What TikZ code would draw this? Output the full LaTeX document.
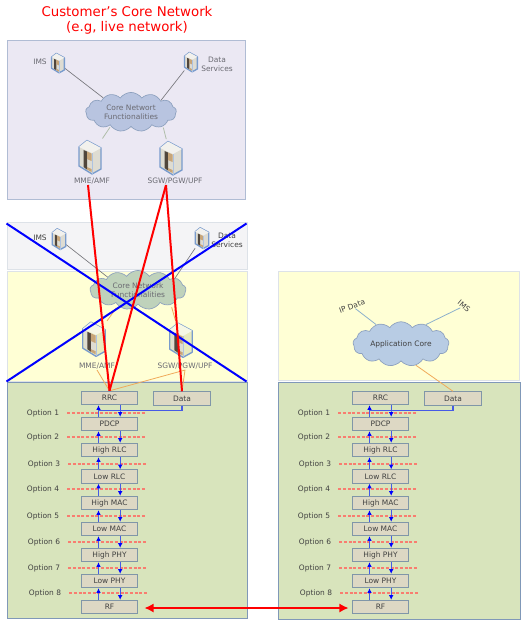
\documentclass[tikz,border=0pt]{standalone}
\usepackage{fontspec}
\setmainfont{DejaVu Sans}
\usetikzlibrary{arrows.meta,fit,backgrounds,shapes.symbols}
\definecolor{Lavender}{RGB}{235,232,243}
\definecolor{PaleGrey}{RGB}{244,244,246}
\definecolor{PaleYellow}{RGB}{255,255,213}
\definecolor{PaleGreen}{RGB}{216,228,188}
\definecolor{EdgeBlue}{RGB}{176,188,212}
\definecolor{EdgePale}{RGB}{221,226,232}
\definecolor{EdgeSteel}{RGB}{128,152,184}
\definecolor{BoxTan}{RGB}{221,216,196}
\definecolor{BoxEdge}{RGB}{128,150,168}
\definecolor{CloudLilac}{RGB}{184,196,224}
\definecolor{CloudSage}{RGB}{191,210,187}
\definecolor{CloudSky}{RGB}{184,204,228}
\definecolor{CloudEdge}{RGB}{140,160,190}
\definecolor{Ink}{RGB}{64,64,64}
\definecolor{InkSoft}{RGB}{106,106,114}
\definecolor{Wire}{RGB}{120,120,125}
\definecolor{WirePale}{RGB}{176,190,170}
\definecolor{WireSky}{RGB}{140,176,204}
\definecolor{Feed}{RGB}{240,170,90}
\definecolor{Bus}{RGB}{70,90,230}
\definecolor{CutRed}{RGB}{248,125,112}
\definecolor{IconEdge}{RGB}{120,155,205}
\definecolor{IconTan}{RGB}{200,165,120}
\definecolor{IconDark}{RGB}{80,70,60}
\definecolor{IconGrey}{RGB}{222,220,210}
\definecolor{IconLime}{RGB}{232,234,190}
\tikzset{
  >=Latex,
  panel/.style={draw=#1,line width=.75pt,inner sep=0pt},
  layerbox/.style={draw=BoxEdge,line width=.8pt,fill=BoxTan,text=Ink,font=\fontsize{5.6}{7}\selectfont,minimum width=42.5pt,minimum height=10pt,inner sep=0pt},
  optlabel/.style={text=Ink,font=\fontsize{5.6}{7}\selectfont,inner sep=1pt},
  tag/.style={text=InkSoft,font=\fontsize{5.6}{7}\selectfont,align=center,inner sep=.5pt},
  tagdark/.style={tag,text=Ink},
  corecloud/.style={cloud,cloud puffs=13,cloud puff arc=110,aspect=2.5,draw=CloudEdge,line width=.5pt,fill=#1,text=InkSoft,font=\fontsize{5.6}{6.8}\selectfont,align=center,inner sep=0pt,minimum width=68pt,minimum height=28pt},
  srv/.style={inner sep=0pt,minimum width=#1*16.5pt,minimum height=#1*24pt},
  wire/.style={draw=Wire,line width=.5pt},
  wirepale/.style={draw=WirePale,line width=.6pt,shorten >=2pt,shorten <=1pt},
  wiresky/.style={draw=WireSky,line width=.6pt},
  feed/.style={draw=Feed,line width=.6pt},
  cutline/.style={draw=CutRed,line width=.9pt,dash pattern=on 2.4pt off 1.1pt},
  bus/.style={draw=Bus,line width=.9pt},
  busup/.style={bus,-{Latex[length=3.5pt,width=3.5pt,color=blue]}},
  cross/.style={draw=blue,line width=1.5pt},
  redline/.style={draw=red,line width=1.5pt},
  redlink/.style={draw=red,line width=1.9pt,{Latex[length=7pt,width=7pt]}-{Latex[length=7pt,width=7pt]}},
  pics/server/.style={code={
    \draw[draw=IconEdge,line width=1pt,fill=#1,line join=round] (-11,-10)--(-3,-16.5)--(11,-9)--(11,12)--(2,17)--(-11,9)--cycle;
    \fill[white!60!#1] (-11,-10)--(-3,-16.5)--(11,-9)--(2,-4)--cycle;
    \fill[IconGrey] (-9.5,-8.5)--(1.5,-3.5)--(1.5,15)--(-9.5,8)--cycle;
    \fill[IconDark] (-6.5,-7)--(-3,-5.5)--(-3,12.5)--(-6.5,10)--cycle;
    \fill[IconTan] (-3,-5.5)--(1.5,-3.5)--(1.5,4)--(-3,2)--cycle;
    \fill[IconTan] (-3,10)--(1.5,12)--(1.5,15)--(-3,12.5)--cycle;
    \draw[IconEdge!60,line width=.4pt] (2,-4)--(2,17);
  }}
}
\begin{document}
\begin{tikzpicture}[x=.75pt,y=-.75pt]
  \useasboundingbox (0,0) rectangle (525,625);
  \node[font=\fontsize{10}{11.5}\selectfont,text=red,align=center] (title) at (127,20) {Customer’s Core Network\\(e.g, live network)};
  % clouds and servers
  \node[corecloud=CloudLilac] (core1) at (131,112) {Core Networt\\Functionalities};
  \node[corecloud=CloudSage,minimum width=72pt] (core2) at (138,290) {Core Network\\Functionalities};
  \node[corecloud=CloudSky,minimum width=72pt,minimum height=30pt,text=Ink] (core3) at (401,344) {Application Core};
  \foreach \n/\x/\y/\s/\c in {ims1/58/63/.58/IconGrey,dat1/191/62/.58/IconGrey,mme1/90/157/1/IconGrey,sgw1/171/158/1/IconGrey,ims2/59/239/.62/IconGrey,dat2/202/238/.62/IconGrey,mme2/94/339/1.02/IconLime,sgw2/181/340/1.02/IconLime}{
    \node[srv=\s] (\n) at (\x,\y) {};
    \pic[scale=\s] at (\n) {server={\c}};
  }
  \node[tag] (imsL1) at (40,62) {IMS};
  \node[tag] (datL1) at (217,64.5) {Data\\Services};
  \node[tag] (mmeL1) at (92,181) {MME/AMF};
  \node[tag] (sgwL1) at (175,181) {SGW/PGW/UPF};
  \node[tagdark] (imsL2) at (40,238) {IMS};
  \node[tagdark] (datL2) at (227,240.5) {Data\\Services};
  \node[tag] (mmeL2) at (97,366) {MME/AMF};
  \node[tag] (sgwL2) at (185,366) {SGW/PGW/UPF};
  \node[tagdark,rotate=20] (ipL3) at (352,306) {IP Data};
  \node[tagdark,rotate=-40] (imsL3) at (464,306) {IMS};
  % protocol stacks
  \foreach \s/\dx in {l/0,r/271}{
    \foreach \i/\t/\y in {1/RRC/398,2/PDCP/424,3/High RLC/450,4/Low RLC/476.5,5/High MAC/503,6/Low MAC/529,7/High PHY/555,8/Low PHY/581,9/RF/607}{
      \node[layerbox] (\s\i) at ({109.5+\dx},\y) {\t};
    }
    \node[layerbox] (\s D) at ({182+\dx},398.5) {Data};
    \foreach \i/\x/\y in {1/43/413,2/43/437,3/44/464,4/43/489,5/43/516,6/44/542,7/44/568,8/45/593}{
      \node[optlabel] (\s o\i) at ({\x+\dx},\y) {Option \i};
      \draw[cutline] ([xshift=5pt]\s o\i.east) -- ++(79,0);
    }
  }
  \begin{scope}[on background layer]
    \node[panel=EdgeBlue,fill=Lavender,fit={(7,40) (245,199)}] (panelLive) {};
    \node[panel=EdgePale,fill=PaleGrey,fit={(7,222) (247,269)}] (panelTop) {};
    \node[panel=EdgePale,fill=PaleYellow,fit={(7,271) (247,381)}] (panelCore) {};
    \node[panel=EdgeSteel,fill=PaleGreen,fit={(7,382) (247,618)}] (panelRan) {};
    \node[panel=EdgePale,fill=PaleYellow,fit={(278,271) (519,380)}] (panelApp) {};
    \node[panel=EdgeSteel,fill=PaleGreen,fit={(278,382) (520,619)}] (panelDu) {};
    \draw[wire] (ims1) -- (core1.153);
    \draw[wire] (dat1) -- (core1.21);
    \draw[wirepale] (core1.215) -- (mme1);
    \draw[wirepale] (core1.-24) -- (sgw1);
    \draw[wire] (ims2) -- (core2.157);
    \draw[wire] (dat2) -- (core2.18);
    \draw[feed,shorten >=2pt,shorten <=2pt] (core2.218) -- (mme2);
    \draw[feed,shorten >=2pt,shorten <=2pt] (core2.-24) -- (sgw2);
    \draw[feed] (mmeL2.south) -- (l1.north) -- (sgwL2.south) -- (lD.north);
    \draw[wiresky] (ipL3) -- (core3.142);
    \draw[wiresky] (imsL3) -- (core3.38);
  \end{scope}
  \draw[feed] (core3.-55) -- (rD.north);
  % stack arrows
  \foreach \s in {l,r}{
    \foreach \a/\b in {1/2,2/3,3/4,4/5,5/6,6/7,7/8,8/9}{
      \draw[busup] ([xshift=-8.25pt]\s\b.north) -- ([xshift=-8.25pt]\s\a.south);
      \draw[busup] ([xshift=8pt]\s\a.south) -- ([xshift=8pt]\s\b.north);
    }
    \draw[bus] (\s D.south) |- ([xshift=-8.25pt,yshift=4.5pt]\s2.north);
  }
  \draw[cross] ([yshift=-1.5pt]panelTop.north west) -- ([xshift=-.75pt]panelCore.south east);
  \draw[cross] (panelCore.south west) -- ([xshift=-.75pt,yshift=-1.5pt]panelTop.north east);
  \draw[redline] ([xshift=-3pt]mmeL1.south) -- (l1.north);
  \draw[redline] ([xshift=-6.75pt]sgwL1.south) -- (l1.north);
  \draw[redline] ([xshift=-6.75pt]sgwL1.south) -- (lD.north);
  \draw[redlink,shorten <=4.5pt,shorten >=2.25pt] ([yshift=-.75pt]l9.east) -- ([yshift=-.75pt]r9.west);
\end{tikzpicture}
\end{document}
